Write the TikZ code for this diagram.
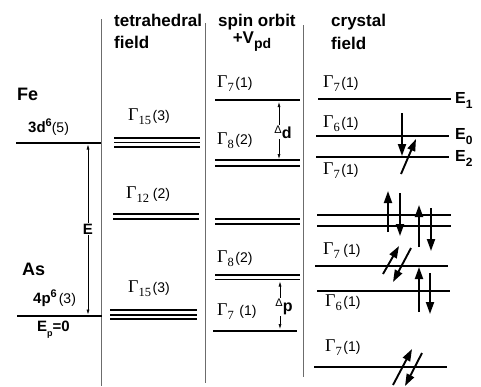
\documentclass[tikz,border=0pt]{standalone}
\usepackage{fontspec}
\setmainfont{Liberation Sans}
\newfontfamily\serifG{Liberation Serif}
\usetikzlibrary{arrows.meta}
\newcommand\GamLab[2]{{\serifG\fontsize{18}{18}\selectfont Γ}{\serifG\fontsize{12.5}{12}\selectfont\raisebox{-4pt}{#1}}\hspace{1.5pt}{\fontsize{14}{14}\selectfont #2}}
\newcommand\ElLab[1]{{\fontsize{16}{16}\selectfont\bfseries E}{\fontsize{12}{12}\selectfont\bfseries\raisebox{-5pt}{#1}}}
\tikzset{
  divider/.style={draw=gray!85!black, line width=0.8pt},
  level/.style={line width=2.4pt},
  sublevel/.style={line width=1.7pt},
  head/.style={font=\fontsize{17}{17}\selectfont\bfseries, inner sep=0pt, anchor=west},
  glab/.style={inner sep=0pt, anchor=west},
  elab/.style={inner sep=0pt, anchor=west},
  thinarrow/.style={line width=0.6pt, {Latex[length=5pt,width=3pt]}-{Latex[length=5pt,width=3pt]}},
  spin/.style={line width=1.9pt, -{Triangle[length=12pt,width=8pt]}},
  cut/.style={fill=white, inner sep=1pt}
}
\begin{document}
\begin{tikzpicture}[x=1pt,y=-1pt]
\useasboundingbox (0,0) rectangle (481,386);
% dividers
\draw[divider] (101.5,19) -- (101.5,386);
\draw[divider] (205,23) -- (205,383);
\draw[divider] (303,25) -- (303,377);
% headings
\node[head] (h1) at (114,20) {tetrahedral};
\node[head] (h1b) at (114,42) {field};
\node[head] (h2) at (218,22) {spin orbit};
\node[head, anchor=center] (h2b) at (252,42) {+V\raisebox{-5pt}{\fontsize{14}{14}\selectfont pd}};
\node[head] (h3) at (331,22) {crystal};
\node[head] (h3b) at (331,43) {field};
% atomic levels
\node[head, font=\fontsize{18}{18}\selectfont\bfseries] (fe) at (17,94) {Fe};
\node[elab] (fed) at (28,127) {{\fontsize{15}{15}\selectfont\bfseries 3d}{\fontsize{11}{11}\selectfont\bfseries\raisebox{6pt}{6}}{\fontsize{14}{14}\selectfont (5)}};
\draw[level] (16,143) -- (101,143);
\node[head, font=\fontsize{18}{18}\selectfont\bfseries] (as) at (22,269) {As};
\node[elab] (asp) at (33,298) {{\fontsize{15}{15}\selectfont\bfseries 4p}{\fontsize{11}{11}\selectfont\bfseries\raisebox{6pt}{6}}\hspace{2pt}{\fontsize{14}{14}\selectfont (3)}};
\draw[level] (17,316) -- (102,316);
\node[elab] (ep) at (37,330) {{\fontsize{15}{15}\selectfont\bfseries E}{\fontsize{9}{9}\selectfont\bfseries\raisebox{-5pt}{p}}{\fontsize{15}{15}\selectfont\bfseries =0}};
\coordinate (eTop) at (88,144.5);
\coordinate (eBot) at (88,314.5);
\draw[thinarrow] (eTop) -- (eBot);
\node[cut, font=\fontsize{15}{15}\selectfont\bfseries] (elabel) at (88,229) {E};
% tetrahedral field
\node[glab] (t1) at (128,117) {\GamLab{15}{(3)}};
\draw[sublevel] (114,137.7) -- (200,137.7);
\draw[sublevel] (114,142.5) -- (200,142.5);
\draw[sublevel] (114,147.3) -- (200,147.3);
\node[glab] (t2) at (126,195) {\GamLab{12}{\,(2)}};
\draw[sublevel] (113,214.3) -- (199,214.3);
\draw[sublevel] (113,219.3) -- (199,219.3);
\node[glab] (t3) at (128,289) {\GamLab{15}{(3)}};
\draw[sublevel] (110,310) -- (197,310);
\draw[sublevel] (110,314.7) -- (197,314.7);
\draw[sublevel] (110,319.3) -- (197,319.3);
% spin orbit
\node[glab] (s1) at (217,84) {\GamLab{7}{(1)}};
\draw[level] (215,100) -- (300,100);
\node[glab] (s2) at (217,141) {\GamLab{8}{(2)}};
\draw[sublevel] (215,160.3) -- (300,160.3);
\draw[sublevel] (215,165.7) -- (300,165.7);
\coordinate (dTop) at (279,102);
\coordinate (dBot) at (279,159);
\draw[thinarrow] (dTop) -- (dBot);
\node[cut] (dlab) at (283,132) {\raisebox{5pt}{\fontsize{11}{11}\selectfont Δ}{\fontsize{16}{16}\selectfont\bfseries d}};
\draw[sublevel] (215,219) -- (300,219);
\draw[sublevel] (215,224) -- (300,224);
\node[glab] (s3) at (217,259) {\GamLab{8}{(2)}};
\draw[sublevel] (215,275) -- (300,275);
\draw[sublevel] (215,279.5) -- (300,279.5);
\node[glab] (s4) at (217,312) {\GamLab{7}{\hspace{4pt}(1)}};
\draw[level] (213,330.7) -- (297,330.7);
\coordinate (pTop) at (280,281.5);
\coordinate (pBot) at (280,329);
\draw[thinarrow] (pTop) -- (pBot);
\node[cut] (plab) at (284,307) {\raisebox{5pt}{\fontsize{11}{11}\selectfont Δ}{\fontsize{16}{16}\selectfont\bfseries p}};
% crystal field
\node[glab] (c1) at (323,84) {\GamLab{7}{(1)}};
\draw[level] (318,99) -- (451,99);
\node[elab] (e1) at (455,100) {\ElLab{1}};
\node[glab] (c2) at (323,124) {\GamLab{6}{(1)}};
\draw[level] (316,136) -- (449,136);
\node[elab] (e0) at (455,137) {\ElLab{0}};
\draw[level] (316,157) -- (449,157);
\node[elab] (e2) at (455,158) {\ElLab{2}};
\node[glab] (c3) at (323,171) {\GamLab{7}{(1)}};
\coordinate (a1s) at (402,113); \coordinate (a1e) at (402,156);
\draw[spin] (a1s) -- (a1e);
\coordinate (a2s) at (401,174); \coordinate (a2e) at (416,139);
\draw[spin] (a2s) -- (a2e);
% lower crystal field
\draw[sublevel] (317,215) -- (451,215);
\draw[sublevel] (317,225.7) -- (451,225.7);
\coordinate (b1s) at (388,232); \coordinate (b1e) at (388,191);
\draw[spin] (b1s) -- (b1e);
\coordinate (b2s) at (400,193); \coordinate (b2e) at (400,236);
\draw[spin] (b2s) -- (b2e);
\coordinate (b3s) at (419,247); \coordinate (b3e) at (419,205);
\draw[spin] (b3s) -- (b3e);
\coordinate (b4s) at (431,208); \coordinate (b4e) at (431,251);
\draw[spin] (b4s) -- (b4e);
\node[glab] (c4) at (323,251) {\GamLab{7}{\hspace{2pt}(1)}};
\draw[level] (315,265.7) -- (448,265.7);
\coordinate (d1s) at (383,274); \coordinate (d1e) at (399,246);
\draw[spin] (d1s) -- (d1e);
\coordinate (d2s) at (411,248); \coordinate (d2e) at (393,282);
\draw[spin] (d2s) -- (d2e);
\draw[level] (317,290.7) -- (450,290.7);
\node[glab] (c5) at (325,303) {\GamLab{6}{(1)}};
\coordinate (f1s) at (419,312); \coordinate (f1e) at (419,267);
\draw[spin] (f1s) -- (f1e);
\coordinate (f2s) at (430,273); \coordinate (f2e) at (430,314);
\draw[spin] (f2s) -- (f2e);
\node[glab] (c6) at (325,348) {\GamLab{7}{(1)}};
\draw[level] (314,366.7) -- (447,366.7);
\coordinate (g1s) at (393,385); \coordinate (g1e) at (412,349);
\draw[spin] (g1s) -- (g1e);
\coordinate (g2s) at (422,353); \coordinate (g2e) at (405,386);
\draw[spin] (g2s) -- (g2e);
\end{tikzpicture}
\end{document}
